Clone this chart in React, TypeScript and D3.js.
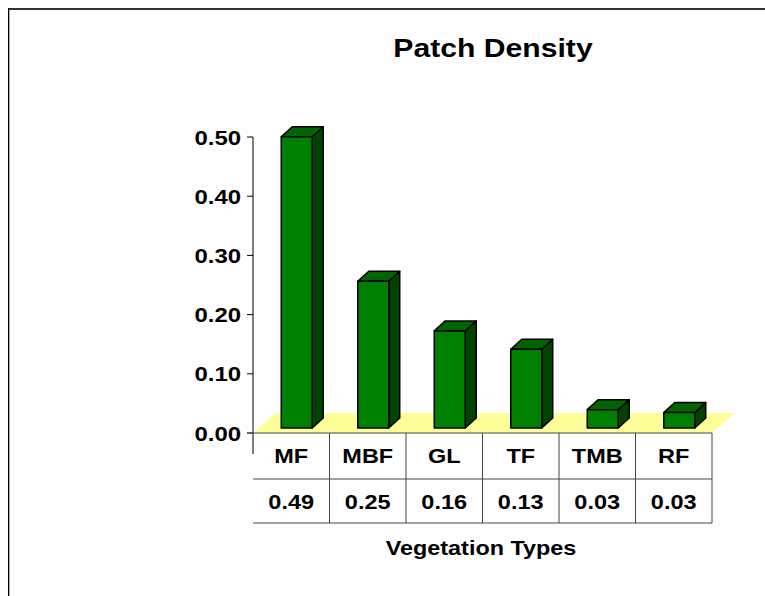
import * as d3 from "d3";

const categories = ["MF", "MBF", "GL", "TF", "TMB", "RF"];
const density = [0.492, 0.248, 0.164, 0.133, 0.031, 0.026];
const yTicks = [0, 0.1, 0.2, 0.3, 0.4, 0.5];

const W = 765;
const H = 596;

export default function App() {
  const x = d3.scaleBand<string>().domain(categories).range([253, 712]).padding(0);
  const y = d3.scaleLinear().domain([0, 0.5]).range([433, 137]);
  const fmt = d3.format(".2f");

  const bw = x.bandwidth();
  const barW = bw * 0.405;
  // depth of the floor, and where the bars stand inside it
  const floorDx = 23;
  const floorDy = -20;
  const offX = 5.5;
  const offY = -5;
  const depX = 11;
  const depY = -10;

  const y0 = y(0);
  const floor = [
    [x.range()[0], y0],
    [x.range()[0] + floorDx, y0 + floorDy],
    [x.range()[1] + floorDx, y0 + floorDy],
    [x.range()[1], y0],
  ]
    .map((p) => p.join(","))
    .join(" ");

  const rowMid = 479;
  const rowBot = 523;

  return (
    <svg
      width={W}
      height={H}
      style={{ position: "absolute", left: 0, top: 0, background: "#fff" }}
      fontFamily="Arial, 'Liberation Sans', sans-serif"
      fontWeight="bold"
    >
      {/* frame */}
      <line x1={8} x2={W} y1={9} y2={9} stroke="#333" strokeWidth={2} />
      <line x1={8.5} x2={8.5} y1={8} y2={H} stroke="#000" strokeWidth={1} />
      <line x1={9.5} x2={9.5} y1={10} y2={H} stroke="#aaa" strokeWidth={1} />

      {/* title */}
      <text transform="translate(493,57) scale(1.16,1)" textAnchor="middle" fontSize={26}>
        Patch Density
      </text>

      {/* floor */}
      <polygon points={floor} fill="#FFFF99" />

      {/* bars */}
      {categories.map((c, i) => {
        const x0 = (x(c) ?? 0) + bw / 2 - barW / 2 + offX;
        const x1 = x0 + barW;
        const bot = y0 + offY;
        const top = y(density[i]) + offY;
        return (
          <g key={c} stroke="#000" strokeWidth={1.5} strokeLinejoin="round">
            <polygon
              points={`${x1},${top} ${x1 + depX},${top + depY} ${x1 + depX},${bot + depY} ${x1},${bot}`}
              fill="#004400"
            />
            <polygon
              points={`${x0},${top} ${x0 + depX},${top + depY} ${x1 + depX},${top + depY} ${x1},${top}`}
              fill="#006400"
            />
            <rect x={x0} y={top} width={barW} height={bot - top} fill="#008000" />
          </g>
        );
      })}

      {/* y axis */}
      <line x1={253} x2={253} y1={y(0.5)} y2={454} stroke="#000" strokeWidth={1} />
      {yTicks.map((t) => (
        <g key={t}>
          <line x1={247} x2={253} y1={y(t)} y2={y(t)} stroke="#000" strokeWidth={1} />
          <text
            transform={`translate(241,${y(t) + 7.5}) scale(1.14,1)`}
            textAnchor="end"
            fontSize={21}
          >
            {fmt(t)}
          </text>
        </g>
      ))}

      {/* data table */}
      <g stroke="#444" strokeWidth={1}>
        <line x1={247} x2={712} y1={y0} y2={y0} />
        <line x1={253} x2={712} y1={rowMid} y2={rowMid} />
        <line x1={253} x2={712} y1={rowBot} y2={rowBot} />
        {categories.slice(1).map((c) => (
          <line key={c} x1={x(c)} x2={x(c)} y1={y0} y2={rowBot} />
        ))}
        <line x1={712} x2={712} y1={y0} y2={rowBot} />
      </g>
      {categories.map((c, i) => {
        const cx = (x(c) ?? 0) + bw / 2;
        return (
          <g key={c} fontSize={21}>
            <text transform={`translate(${cx},463) scale(1.12,1)`} textAnchor="middle">
              {c}
            </text>
            <text transform={`translate(${cx},509) scale(1.12,1)`} textAnchor="middle">
              {fmt(density[i])}
            </text>
          </g>
        );
      })}

      {/* axis title */}
      <text transform="translate(481,555) scale(1.17,1)" textAnchor="middle" fontSize={20}>
        Vegetation Types
      </text>
    </svg>
  );
}
